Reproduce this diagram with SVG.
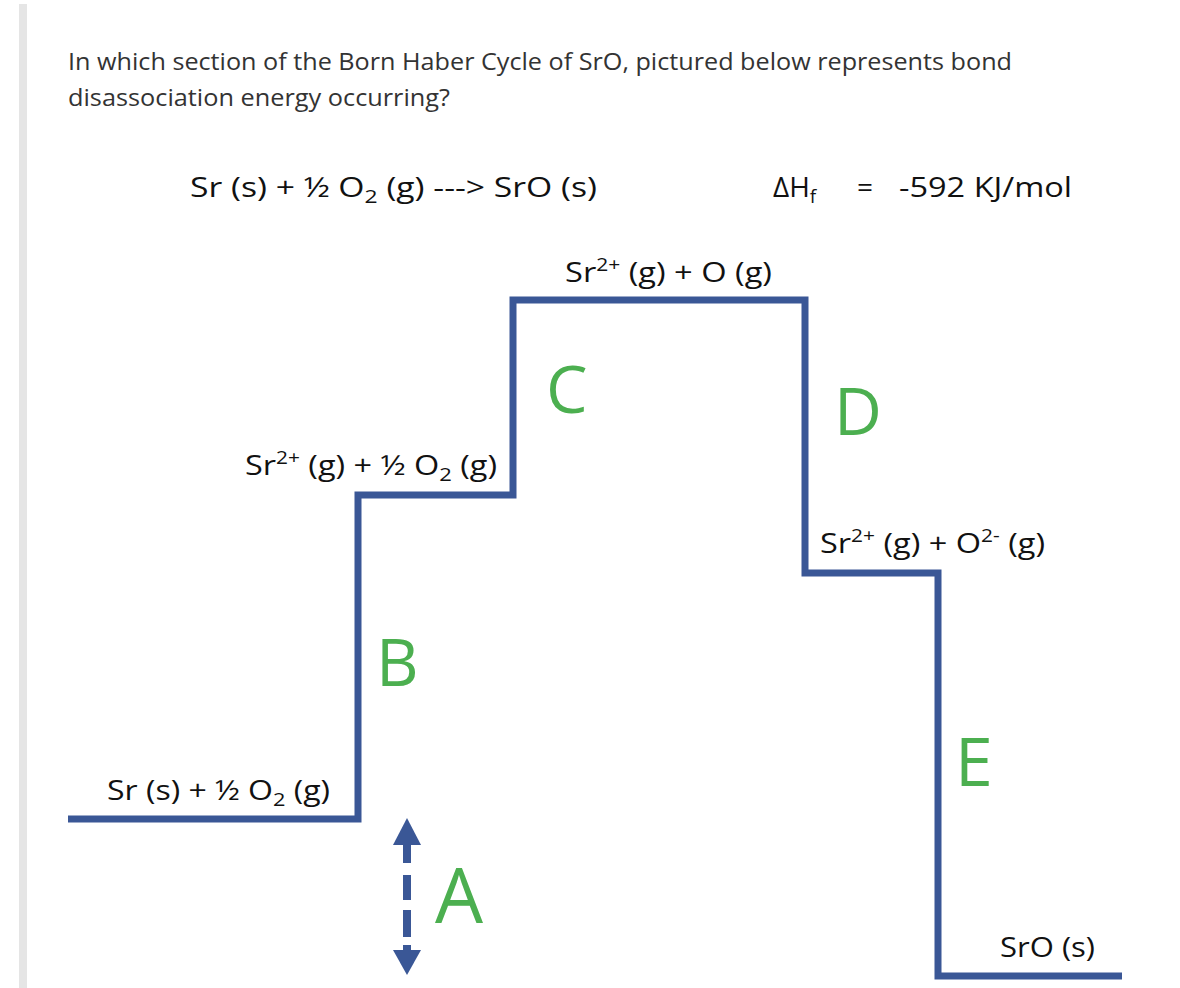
<svg xmlns="http://www.w3.org/2000/svg" width="1180" height="988" viewBox="0 0 1180 988">
<style>
.q{font-family:"Open Sans","Noto Sans",sans-serif;font-size:24px;fill:#333}
.lb{font-family:"Open Sans","Noto Sans",sans-serif;font-size:28px;fill:#111}
.sup{font-size:18px}
.sub{font-size:19px}
.let{font-family:"Open Sans","Noto Sans",sans-serif;fill:#4CAF50}
.step{fill:none;stroke:#3A5796;stroke-width:7;stroke-linejoin:miter}
.arr{fill:#3A5796}
</style>
<rect x="19" y="4" width="8" height="984" fill="#e5e5e5"/>
<g id="question">
<text class="q" x="68" y="70" textLength="944" lengthAdjust="spacingAndGlyphs">In which section of the Born Haber Cycle of SrO, pictured below represents bond</text>
<text class="q" x="68" y="106" textLength="382" lengthAdjust="spacingAndGlyphs">disassociation energy occurring?</text>
</g>
<g id="equation">
<text class="lb" x="190" y="197" font-size="30" textLength="407" lengthAdjust="spacingAndGlyphs">Sr (s) + ½ O<tspan class="sub" dy="6">2</tspan><tspan dy="-6"> (g)  ---&gt;  SrO (s)</tspan></text>
<text class="lb" x="773" y="197" font-size="30">ΔH<tspan class="sub" dy="6">f</tspan></text>
<text class="lb" x="857" y="197" font-size="30">=</text>
<text class="lb" x="899" y="197" font-size="30" textLength="173" lengthAdjust="spacingAndGlyphs">-592 KJ/mol</text>
</g>
<g id="connectors">
<polyline class="step" points="68,819 358,819 358,495 513,495 513,300 805,300 805,573 938,573 938,976 1122,976"/>
</g>
<g id="level-reactants">
<text class="lb" x="107" y="800" textLength="223" lengthAdjust="spacingAndGlyphs">Sr (s) + ½ O<tspan class="sub" dy="6">2</tspan><tspan dy="-6"> (g)</tspan></text>
</g>
<g id="level-sr-gas-ion">
<text class="lb" x="245" y="475" textLength="252" lengthAdjust="spacingAndGlyphs">Sr<tspan class="sup" dy="-11">2+</tspan><tspan dy="11"> (g) + ½ O</tspan><tspan class="sub" dy="6">2</tspan><tspan dy="-6"> (g)</tspan></text>
</g>
<g id="level-o-atom">
<text class="lb" x="565" y="282" textLength="207" lengthAdjust="spacingAndGlyphs">Sr<tspan class="sup" dy="-11">2+</tspan><tspan dy="11"> (g) + O (g)</tspan></text>
</g>
<g id="level-o-ion">
<text class="lb" x="820" y="553" textLength="225" lengthAdjust="spacingAndGlyphs">Sr<tspan class="sup" dy="-11">2+</tspan><tspan dy="11"> (g) + O</tspan><tspan class="sup" dy="-11">2-</tspan><tspan dy="11"> (g)</tspan></text>
</g>
<g id="level-product">
<text class="lb" x="1000" y="957" textLength="95" lengthAdjust="spacingAndGlyphs">SrO (s)</text>
</g>
<g id="arrow-A">
<polygon class="arr" points="407,818 393,845 421,845"/>
<rect class="arr" x="403" y="844" width="8" height="19"/>
<rect class="arr" x="403" y="875" width="8" height="25"/>
<rect class="arr" x="403" y="910" width="8" height="27"/>
<rect class="arr" x="403" y="945" width="8" height="6"/>
<polygon class="arr" points="393,950 421,950 407,975"/>
</g>
<g id="letters">
<text class="let" x="546" y="413" font-size="66">C</text>
<text class="let" x="834" y="435" font-size="66">D</text>
<text class="let" x="376" y="686" font-size="66">B</text>
<text class="let" x="955" y="786" font-size="68">E</text>
<text class="let" x="435" y="923" font-size="76">A</text>
</g>
</svg>
